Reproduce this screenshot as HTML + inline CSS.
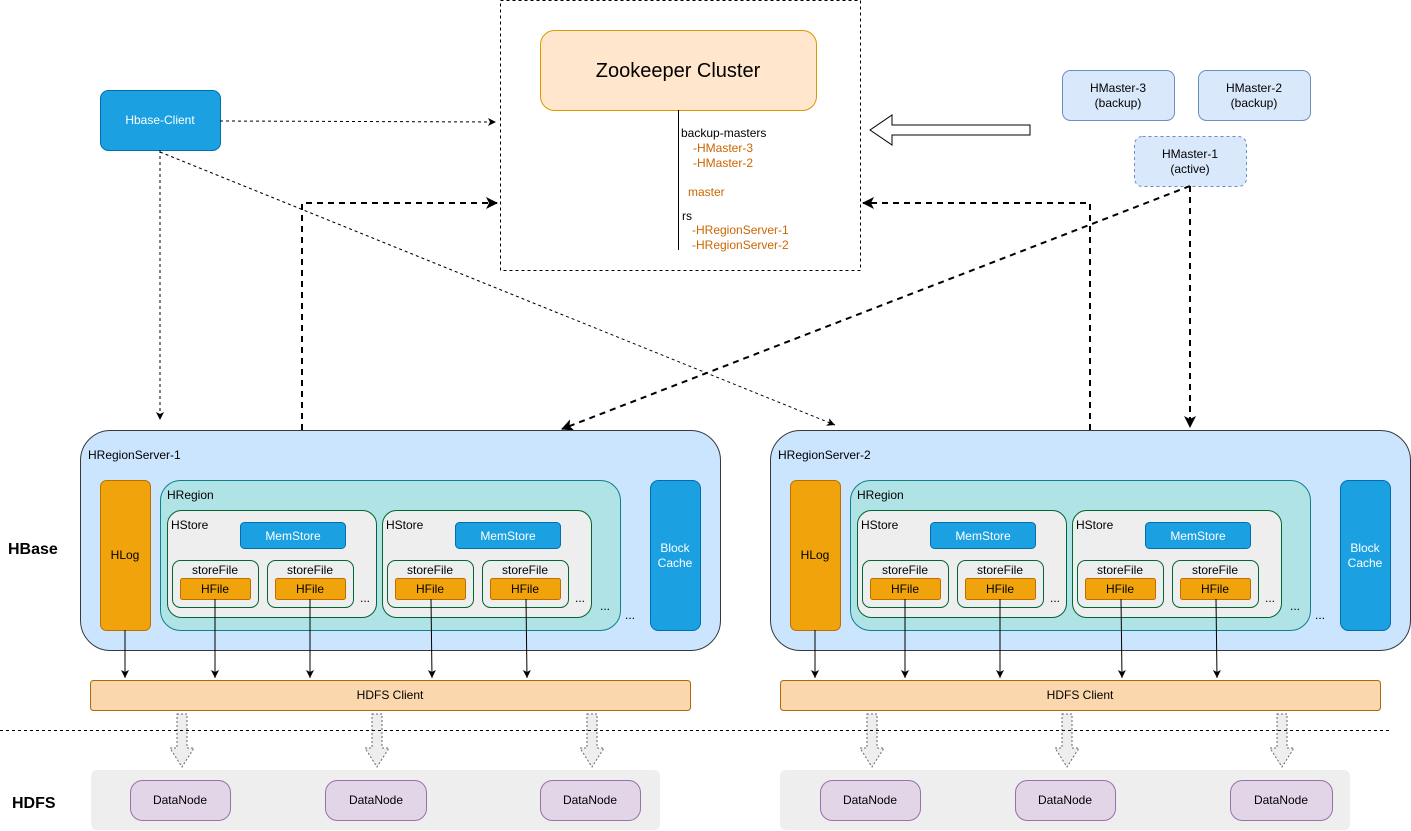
<!DOCTYPE html>
<html><head><meta charset="utf-8"><style>
html,body{margin:0;padding:0;background:#fff;}
svg{display:block;font-family:"Liberation Sans",Helvetica,Arial,sans-serif;}
</style></head><body>
<svg width="1411" height="831" viewBox="0 0 1411 831" xmlns="http://www.w3.org/2000/svg">
<defs>
<marker id="a" markerWidth="10" markerHeight="10" refX="9" refY="5" orient="auto" markerUnits="userSpaceOnUse"><path d="M1,1 L9,5 L1,9 L3,5 Z" fill="#000"/></marker>
<marker id="b" markerWidth="14" markerHeight="14" refX="12" refY="7" orient="auto" markerUnits="userSpaceOnUse"><path d="M1,1 L13,7 L1,13 L4,7 Z" fill="#000"/></marker>
</defs>

<!-- Zookeeper area -->
<rect x="500.5" y="0.5" width="360" height="270" fill="#fff" stroke="#000" stroke-dasharray="3,3"/>
<rect x="540.5" y="30.5" width="276" height="80" rx="14" fill="#ffe6cc" stroke="#d79b00"/>
<text x="678" y="77" font-size="20" text-anchor="middle">Zookeeper Cluster</text>
<line x1="678.5" y1="110" x2="678.5" y2="250" stroke="#000"/>
<g font-size="12">
<text x="681" y="137">backup-masters</text>
<text x="693" y="152" fill="#cc6600">-HMaster-3</text>
<text x="693" y="167" fill="#cc6600">-HMaster-2</text>
<text x="688" y="196" fill="#cc6600">master</text>
<text x="682" y="220">rs</text>
<text x="692" y="234" fill="#cc6600">-HRegionServer-1</text>
<text x="692" y="249" fill="#cc6600">-HRegionServer-2</text>
</g>

<!-- Hbase client -->
<rect x="100.5" y="90.5" width="120" height="60" rx="8" fill="#1ba1e2" stroke="#006eaf"/>
<text x="160" y="124" font-size="12" fill="#fff" text-anchor="middle">Hbase-Client</text>

<!-- HMasters -->
<g font-size="12" text-anchor="middle">
<rect x="1062.5" y="70.5" width="112" height="50" rx="8" fill="#dae8fc" stroke="#6c8ebf"/>
<text x="1118" y="92">HMaster-3</text><text x="1118" y="107">(backup)</text>
<rect x="1198.5" y="70.5" width="112" height="50" rx="8" fill="#dae8fc" stroke="#6c8ebf"/>
<text x="1254" y="92">HMaster-2</text><text x="1254" y="107">(backup)</text>
<rect x="1134.5" y="136.5" width="112" height="50" rx="8" fill="#dae8fc" stroke="#6c8ebf" stroke-dasharray="3,3"/>
<text x="1190" y="158">HMaster-1</text><text x="1190" y="173">(active)</text>
</g>
<!-- hollow arrow -->
<path d="M1030,125 L892,125 L892,115 L870,130 L892,145 L892,135 L1030,135 Z" fill="#fff" stroke="#000"/>

<!-- connectors -->
<g fill="none" stroke="#000">
<path d="M220,121 L496,122" stroke-dasharray="3,3" marker-end="url(#a)"/>
<path d="M160,150 L160,420" stroke-dasharray="3,3" marker-end="url(#a)"/>
<path d="M160,152 L835,425" stroke-dasharray="3,3" marker-end="url(#a)"/>
<path d="M302,430 L302,203 L497,203" stroke-width="2" stroke-dasharray="6,5" marker-end="url(#b)"/>
<path d="M1090,430 L1090,203 L863,203" stroke-width="2" stroke-dasharray="6,5" marker-end="url(#b)"/>
<path d="M1190,186 L562,429" stroke-width="2" stroke-dasharray="6,5" marker-end="url(#b)"/>
<path d="M1190,186 L1190,427" stroke-width="2" stroke-dasharray="6,5" marker-end="url(#b)"/>
</g>

<!-- server template -->
<g id="srv">
<rect x="80.5" y="430.5" width="640" height="220" rx="30" fill="#cce5ff" stroke="#36393d"/>
<text x="88" y="459" font-size="12">HRegionServer-1</text>
<rect x="100.5" y="480.5" width="50" height="150" rx="6" fill="#f0a30a" stroke="#bd7000"/>
<text x="125" y="559" font-size="12" text-anchor="middle">HLog</text>
<rect x="160.5" y="480.5" width="460" height="150" rx="20" fill="#b0e3e6" stroke="#0e8088"/>
<text x="167" y="499" font-size="12">HRegion</text>
<rect x="650.5" y="480.5" width="50" height="150" rx="8" fill="#1ba1e2" stroke="#006eaf"/>
<text x="675" y="552" font-size="12" fill="#fff" text-anchor="middle">Block</text>
<text x="675" y="567" font-size="12" fill="#fff" text-anchor="middle">Cache</text>
<g font-size="12" text-anchor="middle">
<rect x="167.5" y="510.5" width="209" height="107" rx="14" fill="#eeeeee" stroke="#006633"/>
<text x="171" y="529" text-anchor="start">HStore</text>
<rect x="240.5" y="522.5" width="105" height="26" rx="4" fill="#1ba1e2" stroke="#006eaf"/>
<text x="293" y="540" fill="#fff">MemStore</text>
<rect x="172.5" y="560.5" width="86" height="47" rx="8" fill="#eeeeee" stroke="#006633"/>
<text x="215" y="574">storeFile</text>
<rect x="180.5" y="578.5" width="70" height="21" rx="2" fill="#f0a30a" stroke="#bd7000"/>
<text x="215" y="593">HFile</text>
<rect x="267.5" y="560.5" width="86" height="47" rx="8" fill="#eeeeee" stroke="#006633"/>
<text x="310" y="574">storeFile</text>
<rect x="275.5" y="578.5" width="70" height="21" rx="2" fill="#f0a30a" stroke="#bd7000"/>
<text x="310" y="593">HFile</text>
<text x="365" y="602">...</text>

<rect x="382.5" y="510.5" width="209" height="107" rx="14" fill="#eeeeee" stroke="#006633"/>
<text x="386" y="529" text-anchor="start">HStore</text>
<rect x="455.5" y="522.5" width="105" height="26" rx="4" fill="#1ba1e2" stroke="#006eaf"/>
<text x="508" y="540" fill="#fff">MemStore</text>
<rect x="387.5" y="560.5" width="86" height="47" rx="8" fill="#eeeeee" stroke="#006633"/>
<text x="430" y="574">storeFile</text>
<rect x="395.5" y="578.5" width="70" height="21" rx="2" fill="#f0a30a" stroke="#bd7000"/>
<text x="430" y="593">HFile</text>
<rect x="482.5" y="560.5" width="86" height="47" rx="8" fill="#eeeeee" stroke="#006633"/>
<text x="525" y="574">storeFile</text>
<rect x="490.5" y="578.5" width="70" height="21" rx="2" fill="#f0a30a" stroke="#bd7000"/>
<text x="525" y="593">HFile</text>
<text x="580" y="602">...</text>
<text x="605" y="610">...</text>
<text x="630" y="619">...</text>
</g>
<rect x="90.5" y="680.5" width="600" height="30" rx="3" fill="#fad7ac" stroke="#b46504"/>
<text x="390" y="699" font-size="12" text-anchor="middle">HDFS Client</text>
<g fill="none" stroke="#000">
<path d="M125,630 L125,678" marker-end="url(#a)"/>
<path d="M215,599 L215,678" marker-end="url(#a)"/>
<path d="M310,599 L310,678" marker-end="url(#a)"/>
<path d="M431,599 L432,678" marker-end="url(#a)"/>
<path d="M526,599 L527,678" marker-end="url(#a)"/>
</g>
<g fill="#eeeeee" stroke="#666" stroke-dasharray="2,2">
<path d="M177,714 L187,714 L187,748 L194,748 L182,767 L170,748 L177,748 Z"/>
<path d="M372,714 L382,714 L382,748 L389,748 L377,767 L365,748 L372,748 Z"/>
<path d="M587,714 L597,714 L597,748 L604,748 L592,767 L580,748 L587,748 Z"/>
</g>
</g>
<use href="#srv" transform="translate(690,0)"/>
<rect x="781" y="448" width="110" height="14" fill="#cce5ff"/>
<text x="778" y="459" font-size="12">HRegionServer-2</text>

<!-- dashed divider -->
<line x1="0" y1="730.5" x2="1390" y2="730.5" stroke="#000" stroke-dasharray="3,3"/>

<!-- HDFS -->
<rect x="91" y="770" width="569" height="60" rx="6" fill="#eeeeee"/>
<rect x="780" y="770" width="570" height="60" rx="6" fill="#eeeeee"/>
<g font-size="12" text-anchor="middle">
<rect x="130.5" y="780.5" width="100" height="40" rx="12" fill="#e1d5e7" stroke="#9673a6"/><text x="180" y="804">DataNode</text>
<rect x="325.5" y="780.5" width="101" height="40" rx="12" fill="#e1d5e7" stroke="#9673a6"/><text x="376" y="804">DataNode</text>
<rect x="540.5" y="780.5" width="100" height="40" rx="12" fill="#e1d5e7" stroke="#9673a6"/><text x="590" y="804">DataNode</text>
<rect x="820.5" y="780.5" width="100" height="40" rx="12" fill="#e1d5e7" stroke="#9673a6"/><text x="870" y="804">DataNode</text>
<rect x="1015.5" y="780.5" width="100" height="40" rx="12" fill="#e1d5e7" stroke="#9673a6"/><text x="1065" y="804">DataNode</text>
<rect x="1230.5" y="780.5" width="102" height="40" rx="12" fill="#e1d5e7" stroke="#9673a6"/><text x="1281" y="804">DataNode</text>
</g>

<text x="8" y="554" font-size="16" font-weight="bold">HBase</text>
<text x="12" y="808" font-size="16" font-weight="bold">HDFS</text>
</svg>
</body></html>
